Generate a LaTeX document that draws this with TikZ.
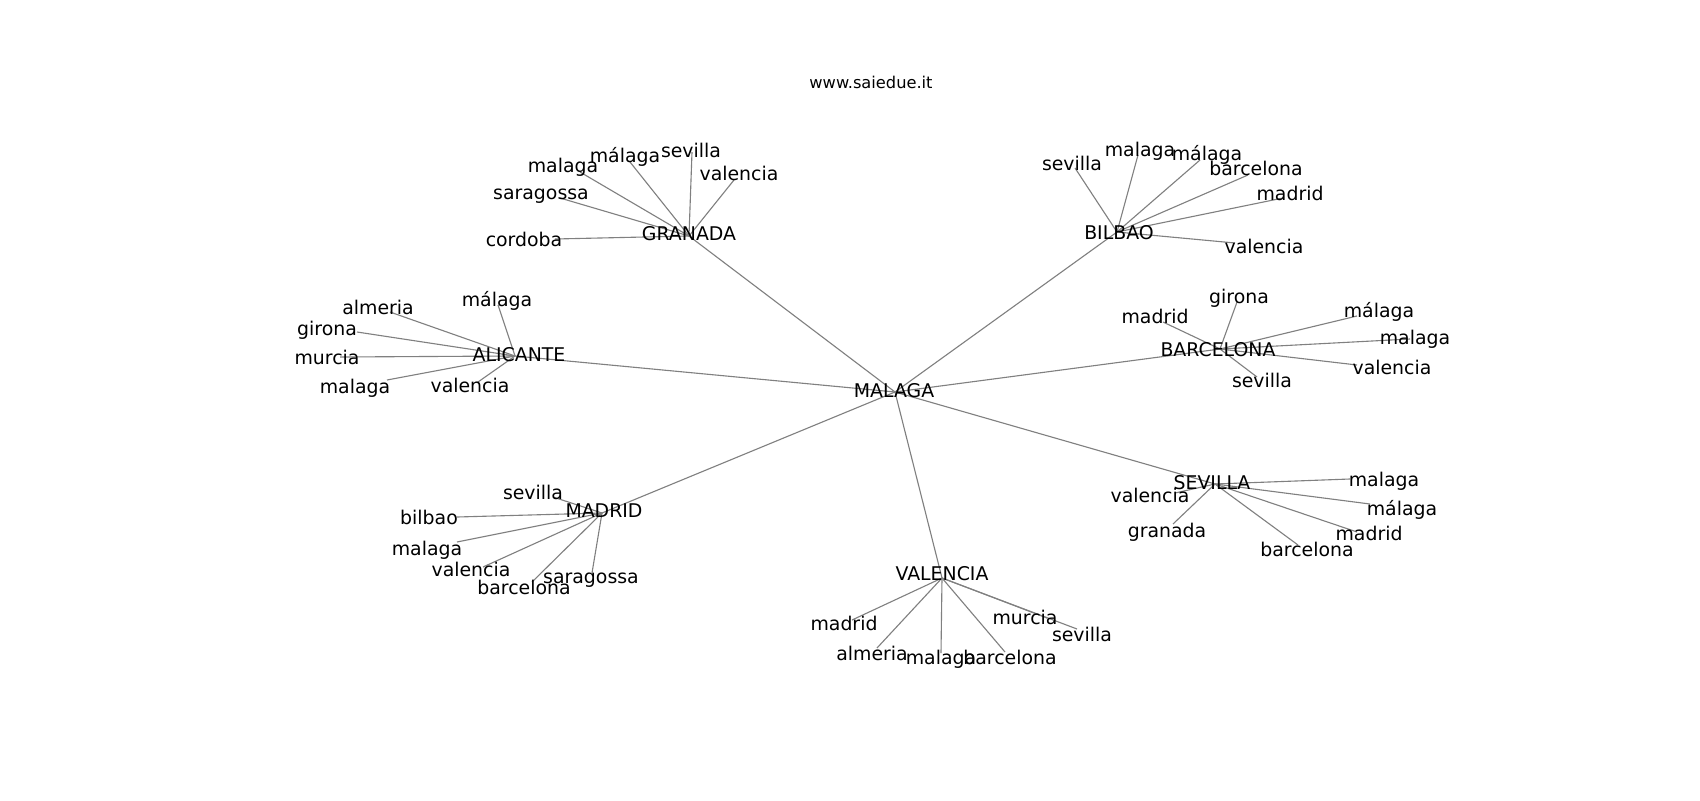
\documentclass[tikz,border=0pt]{standalone}
\usepackage{fontspec}
\setmainfont{DejaVu Sans}
\newfontfamily\labfont{DejaVu Sans}
\begin{document}
\begin{tikzpicture}[x=0.72pt,y=-0.72pt]
\definecolor{edgegray}{RGB}{128,128,128}
\tikzset{
  lab/.style={font=\labfont\fontsize{13.6}{16}\selectfont, text=black, inner sep=0pt, text height=1.45ex, text depth=0.3ex, yshift=-2.3pt},
  ttl/.style={font=\labfont\fontsize{11.7}{14}\selectfont, text=black, inner sep=0pt},
  edge/.style={draw=edgegray, line width=0.8pt}
}
\useasboundingbox[fill=white] (0,0) rectangle (1700,800);
\node[ttl] (title) at (871,82) {www.saiedue.it};
% hubs
\coordinate (MAL) at (895,392);
\coordinate (GRA) at (689,236);
\coordinate (BIL) at (1117,232);
\coordinate (ALI) at (515,356);
\coordinate (BAR) at (1220,349);
\coordinate (MAD) at (602,513);
\coordinate (SEV) at (1215,484);
\coordinate (VAL) at (942,578);
% leaves of GRANADA
\coordinate (g1) at (555,239);
\coordinate (g2) at (560,198);
\coordinate (g3) at (580,172);
\coordinate (g4) at (630,162);
\coordinate (g5) at (692,152);
\coordinate (g6) at (734,180);
% leaves of BILBAO
\coordinate (b1) at (1075,168);
\coordinate (b2) at (1138,155);
\coordinate (b3) at (1200,160);
\coordinate (b4) at (1248,175);
\coordinate (b5) at (1283,198);
\coordinate (b6) at (1235,243);
% leaves of ALICANTE
\coordinate (a1) at (390,312);
\coordinate (a2) at (357,332);
\coordinate (a3) at (340,357);
\coordinate (a4) at (387,380);
\coordinate (a5) at (478,382);
\coordinate (a6) at (498,305);
% leaves of BARCELONA
\coordinate (c1) at (1237,302);
\coordinate (c2) at (1163,322);
\coordinate (c3) at (1357,316);
\coordinate (c4) at (1410,339);
\coordinate (c5) at (1357,365);
\coordinate (c6) at (1257,377);
% leaves of MADRID
\coordinate (m1) at (553,497);
\coordinate (m2) at (457,517);
\coordinate (m3) at (457,542);
\coordinate (m4) at (483,567);
\coordinate (m5) at (532,582);
\coordinate (m6) at (592,573);
% leaves of SEVILLA
\coordinate (s1) at (1350,479);
\coordinate (s2) at (1370,504);
\coordinate (s3) at (1357,532);
\coordinate (s4) at (1298,545);
\coordinate (s5) at (1173,524);
\coordinate (s6) at (1175,493);
% leaves of VALENCIA
\coordinate (v1) at (852,620);
\coordinate (v2) at (877,648);
\coordinate (v3) at (941,653);
\coordinate (v4) at (1005,652);
\coordinate (v5) at (1047,618);
\coordinate (v6) at (1077,629);
% edges
\foreach \h in {GRA,BIL,ALI,BAR,MAD,SEV,VAL} {\draw[edge] (MAL) -- (\h);}
\foreach \l in {g1,g2,g3,g4,g5,g6} {\draw[edge] (GRA) -- (\l);}
\foreach \l in {b1,b2,b3,b4,b5,b6} {\draw[edge] (BIL) -- (\l);}
\foreach \l in {a1,a2,a3,a4,a5,a6} {\draw[edge] (ALI) -- (\l);}
\foreach \l in {c1,c2,c3,c4,c5,c6} {\draw[edge] (BAR) -- (\l);}
\foreach \l in {m1,m2,m3,m4,m5,m6} {\draw[edge] (MAD) -- (\l);}
\foreach \l in {s1,s2,s3,s4,s5,s6} {\draw[edge] (SEV) -- (\l);}
\foreach \l in {v1,v2,v3,v4,v5,v6} {\draw[edge] (VAL) -- (\l);}
% hub labels
\node[lab] (MALt) at (894,390) {MALAGA};
\node[lab] (GRAt) at (689,233) {GRANADA};
\node[lab] (BILt) at (1119,232) {BILBAO};
\node[lab] (ALIt) at (519,354) {ALICANTE};
\node[lab] (BARt) at (1218,349) {BARCELONA};
\node[lab] (MADt) at (604,510) {MADRID};
\node[lab] (SEVt) at (1212,482) {SEVILLA};
\node[lab] (VALt) at (942,573) {VALENCIA};
% leaf labels
\node[lab] (g1t) at (524,239) {cordoba};
\node[lab] (g2t) at (541,192) {saragossa};
\node[lab] (g3t) at (563,165) {malaga};
\node[lab] (g4t) at (625,155) {málaga};
\node[lab] (g5t) at (691,150) {sevilla};
\node[lab] (g6t) at (739,173) {valencia};
\node[lab] (b1t) at (1072,163) {sevilla};
\node[lab] (b2t) at (1140,149) {malaga};
\node[lab] (b3t) at (1207,153) {málaga};
\node[lab] (b4t) at (1256,168) {barcelona};
\node[lab] (b5t) at (1290,193) {madrid};
\node[lab] (b6t) at (1264,246) {valencia};
\node[lab] (a1t) at (378,307) {almeria};
\node[lab] (a2t) at (327,328) {girona};
\node[lab] (a3t) at (327,357) {murcia};
\node[lab] (a4t) at (355,386) {malaga};
\node[lab] (a5t) at (470,385) {valencia};
\node[lab] (a6t) at (497,299) {málaga};
\node[lab] (c1t) at (1239,296) {girona};
\node[lab] (c2t) at (1155,316) {madrid};
\node[lab] (c3t) at (1379,310) {málaga};
\node[lab] (c4t) at (1415,337) {malaga};
\node[lab] (c5t) at (1392,367) {valencia};
\node[lab] (c6t) at (1262,380) {sevilla};
\node[lab] (m1t) at (533,492) {sevilla};
\node[lab] (m2t) at (429,517) {bilbao};
\node[lab] (m3t) at (427,548) {malaga};
\node[lab] (m4t) at (471,569) {valencia};
\node[lab] (m5t) at (524,587) {barcelona};
\node[lab] (m6t) at (591,576) {saragossa};
\node[lab] (s1t) at (1384,479) {malaga};
\node[lab] (s2t) at (1402,508) {málaga};
\node[lab] (s3t) at (1369,533) {madrid};
\node[lab] (s4t) at (1307,549) {barcelona};
\node[lab] (s5t) at (1167,530) {granada};
\node[lab] (s6t) at (1150,495) {valencia};
\node[lab] (v1t) at (844,623) {madrid};
\node[lab] (v2t) at (872,653) {almeria};
\node[lab] (v3t) at (941,657) {malaga};
\node[lab] (v4t) at (1010,657) {barcelona};
\node[lab] (v5t) at (1025,617) {murcia};
\node[lab] (v6t) at (1082,634) {sevilla};
\end{tikzpicture}
\end{document}
